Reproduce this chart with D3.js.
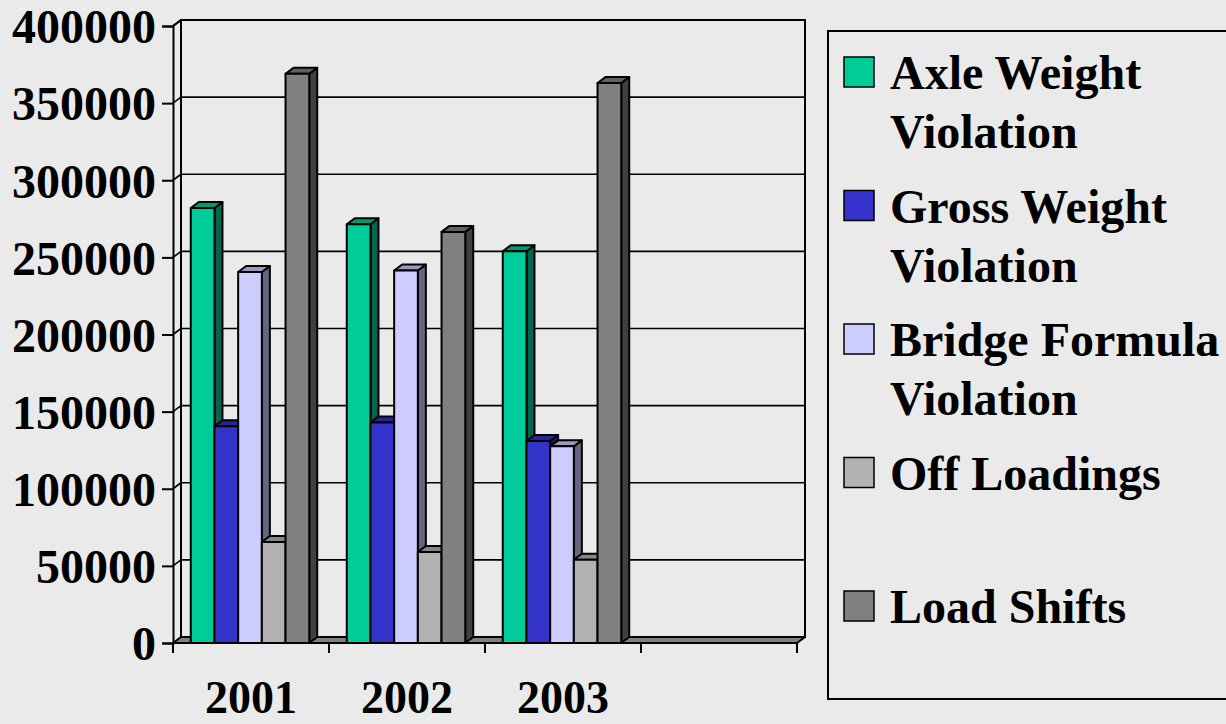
<!DOCTYPE html>
<html>
<head>
<meta charset="utf-8">
<script src="https://cdn.jsdelivr.net/npm/d3@7"></script>
<style>
  html, body { margin: 0; padding: 0; background: #EAEAEA; }
  svg { display: block; }
  text { font-family: "Liberation Serif", "Times New Roman", serif; font-weight: bold; fill: #000; }
</style>
</head>
<body>
<svg id="chart" width="1226" height="724"></svg>
<script>
// Categories along the floor (the last slot is empty, as on the original sheet)
const categories = ["2001", "2002", "2003", ""];

// Violation counts per year
const axleWeight    = [282000, 271500, 254000];
const grossWeight   = [140500, 143000, 131000];
const bridgeFormula = [240500, 241500, 127500];
const offLoadings   = [65500, 59000, 54000];
const loadShifts    = [369000, 266500, 363000];

const seriesNames = ["Axle Weight Violation", "Gross Weight Violation", "Bridge Formula Violation", "Off Loadings", "Load Shifts"];
const legendLines = [["Axle Weight", "Violation"], ["Gross Weight", "Violation"], ["Bridge Formula", "Violation"], ["Off Loadings", ""], ["Load Shifts"]];
const seriesColors = ["#00CC99", "#3333CC", "#CCCCFF", "#B2B2B2", "#808080"];
const seriesValues = [axleWeight, grossWeight, bridgeFormula, offLoadings, loadShifts];

const yTicks = [0, 50000, 100000, 150000, 200000, 250000, 300000, 350000, 400000];

const svg = d3.select("#chart");

// Front plane of the plot and the depth offset of the 3-D box
const front = { left: 173, right: 797, top: 26, bottom: 643 };
const depth = { dx: 8, dy: -6 };

const y = d3.scaleLinear().domain([0, 400000]).range([front.bottom, front.top]);
const x = d3.scaleBand().domain(categories).range([front.left, front.right]).padding(0);
const xs = d3.scaleBand().domain(d3.range(seriesNames.length))
  .range([0, x.bandwidth() - 2]).paddingInner(0).paddingOuter(0.75);

const shade = (c, k) => { const r = d3.rgb(c); return d3.rgb(r.r * k, r.g * k, r.b * k).formatHex(); };
const pts = a => a.map(p => p.join(",")).join(" ");

const plot = svg.append("g");

// Back wall
const bx0 = front.left + depth.dx, bx1 = front.right + depth.dx;
plot.append("rect")
  .attr("x", bx0).attr("y", y(400000) + depth.dy)
  .attr("width", bx1 - bx0).attr("height", y(0) - y(400000))
  .attr("fill", "#EAEAEA").attr("stroke", "#000").attr("stroke-width", 2);

// Gridlines on the back wall and the left wall
yTicks.filter(d => d > 0 && d < 400000).forEach(d => {
  plot.append("line")
    .attr("x1", bx0).attr("x2", bx1)
    .attr("y1", y(d) + depth.dy).attr("y2", y(d) + depth.dy)
    .attr("stroke", "#000").attr("stroke-width", 1.6);
});
yTicks.filter(d => d > 0).forEach(d => {
  plot.append("line")
    .attr("x1", front.left).attr("y1", y(d))
    .attr("x2", bx0).attr("y2", y(d) + depth.dy)
    .attr("stroke", "#000").attr("stroke-width", 1.6);
});

// Floor
plot.append("polygon")
  .attr("points", pts([[front.left, y(0)], [front.right, y(0)], [bx1, y(0) + depth.dy], [bx0, y(0) + depth.dy]]))
  .attr("fill", "#808080").attr("stroke", "#000").attr("stroke-width", 2).attr("stroke-linejoin", "round");

// Bars: front face, top and right side, drawn left to right
const bars = plot.append("g");
categories.forEach((cat, ci) => {
  seriesValues.forEach((vals, si) => {
    const v = vals[ci];
    if (v === undefined) return;
    const x0 = x(cat) + xs(si), x1 = x0 + xs.bandwidth();
    const y0 = y(0), y1 = y(v);
    const col = seriesColors[si];
    const g = bars.append("g").attr("stroke", "#000").attr("stroke-width", 2).attr("stroke-linejoin", "round");
    g.append("polygon")
      .attr("points", pts([[x1, y0], [x1 + depth.dx, y0 + depth.dy], [x1 + depth.dx, y1 + depth.dy], [x1, y1]]))
      .attr("fill", shade(col, 0.5));
    g.append("polygon")
      .attr("points", pts([[x0, y1], [x1, y1], [x1 + depth.dx, y1 + depth.dy], [x0 + depth.dx, y1 + depth.dy]]))
      .attr("fill", shade(col, 0.75));
    g.append("rect")
      .attr("x", x0).attr("y", y1).attr("width", x1 - x0).attr("height", y0 - y1)
      .attr("fill", col);
  });
});

// Left wall top edge
plot.append("line").attr("x1", front.left).attr("y1", y(400000)).attr("x2", bx0).attr("y2", y(400000) + depth.dy)
  .attr("stroke", "#000").attr("stroke-width", 2);

// Value axis
const yAxis = d3.axisLeft(y).tickValues(yTicks).tickSize(11).tickPadding(6).tickFormat(d3.format("d"));
const ya = svg.append("g").attr("transform", `translate(${front.left},0)`).call(yAxis);
ya.select(".domain").attr("stroke", "#000").attr("stroke-width", 2);
ya.selectAll(".tick line").attr("stroke", "#000").attr("stroke-width", 2);
ya.selectAll(".tick text").attr("font-size", 48).attr("font-family", null).attr("dy", "0.35em");

// Category axis: ticks at band edges, labels centred in each band
const xa = svg.append("g");
xa.append("line").attr("x1", front.left).attr("x2", front.right).attr("y1", y(0)).attr("y2", y(0))
  .attr("stroke", "#000").attr("stroke-width", 2);
const edges = categories.map(c => x(c)).concat([x(categories[categories.length - 1]) + x.bandwidth()]);
xa.selectAll("line.tk").data(edges).join("line").attr("class", "tk")
  .attr("x1", d => d).attr("x2", d => d).attr("y1", y(0)).attr("y2", y(0) + 10)
  .attr("stroke", "#000").attr("stroke-width", 2);
xa.selectAll("text").data(categories).join("text")
  .attr("x", d => x(d) + x.bandwidth() / 2).attr("y", 713)
  .attr("text-anchor", "middle").attr("font-size", 46).text(d => d);

// Legend
const legend = svg.append("g");
legend.append("rect").attr("x", 828).attr("y", 31).attr("width", 420).attr("height", 668)
  .attr("fill", "none").attr("stroke", "#000").attr("stroke-width", 2);
seriesNames.forEach((name, i) => {
  const top = 57 + i * 133.5;
  legend.append("rect").attr("x", 844).attr("y", top).attr("width", 30).attr("height", 30)
    .attr("fill", seriesColors[i]).attr("stroke", "#000").attr("stroke-width", 1.5);
  const t = legend.append("text").attr("x", 890).attr("y", top + 32).attr("font-size", 48);
  legendLines[i].forEach((ln, j) => {
    t.append("tspan").attr("x", 890).attr("dy", j === 0 ? 0 : 59).text(ln);
  });
});
</script>
</body>
</html>
